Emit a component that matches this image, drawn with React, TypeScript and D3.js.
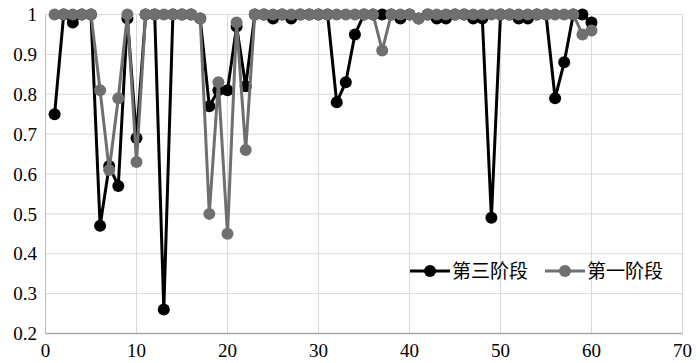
import React, { useEffect, useRef } from 'react';
import * as d3 from 'd3';

const xValues: number[] = Array.from({ length: 60 }, (_, i) => i + 1);

// 第三阶段 (black)
const stage3: number[] = [
  0.75, 1, 0.98, 1, 1, 0.47, 0.62, 0.57, 0.99, 0.69,
  1, 1, 0.26, 1, 1, 1, 0.99, 0.77, 0.81, 0.81,
  0.97, 0.82, 1, 1, 0.99, 1, 0.99, 1, 1, 1,
  1, 0.78, 0.83, 0.95, 1, 1, 1, 1, 0.99, 1,
  0.99, 1, 0.99, 0.99, 1, 1, 0.99, 0.99, 0.49, 1,
  1, 0.99, 0.99, 1, 1, 0.79, 0.88, 1, 1, 0.98,
];

// 第一阶段 (gray)
const stage1: number[] = [
  1, 1, 1, 1, 1, 0.81, 0.61, 0.79, 1, 0.63,
  1, 1, 1, 1, 1, 1, 0.99, 0.5, 0.83, 0.45,
  0.98, 0.66, 1, 1, 1, 1, 1, 1, 1, 1,
  1, 1, 1, 1, 1, 1, 0.91, 1, 1, 1,
  0.99, 1, 1, 1, 1, 1, 1, 1, 1, 1,
  1, 1, 1, 1, 1, 1, 1, 1, 0.95, 0.96,
];

const xTicks: number[] = [0, 10, 20, 30, 40, 50, 60, 70];
const yTicks: number[] = [0.2, 0.3, 0.4, 0.5, 0.6, 0.7, 0.8, 0.9, 1];
const yTickLabels: string[] = ['0.2', '0.3', '0.4', '0.5', '0.6', '0.7', '0.8', '0.9', '1'];

const seriesNames = ['第三阶段', '第一阶段'];

const App: React.FC = () => {
  const svgRef = useRef<SVGSVGElement | null>(null);

  useEffect(() => {
    const svg = d3.select(svgRef.current);
    svg.selectAll('*').remove();

    const W = 700;
    const H = 363;
    const left = 45.5;
    const right = 682.5;
    const top = 14.5;
    const bottom = 333.5;
    const font = "'Liberation Serif', 'DejaVu Serif', serif";

    const x = d3.scaleLinear().domain([0, 70]).range([left, right]);
    const y = d3.scaleLinear().domain([0.2, 1]).range([bottom, top]);

    svg.attr('width', W).attr('height', H).attr('viewBox', `0 0 ${W} ${H}`);
    svg.append('rect').attr('width', W).attr('height', H).attr('fill', '#fff');

    // grid
    const grid = svg.append('g');
    grid
      .selectAll('line.h')
      .data(yTicks.slice(1))
      .join('line')
      .attr('x1', left)
      .attr('x2', right)
      .attr('y1', d => y(d))
      .attr('y2', d => y(d))
      .attr('stroke', '#d9d9d9')
      .attr('stroke-width', 1);
    grid
      .selectAll('line.v')
      .data(xTicks.slice(1))
      .join('line')
      .attr('x1', d => x(d))
      .attr('x2', d => x(d))
      .attr('y1', top)
      .attr('y2', bottom)
      .attr('stroke', '#d9d9d9')
      .attr('stroke-width', 1);

    // axes lines
    svg.append('line')
      .attr('x1', left).attr('x2', left).attr('y1', top).attr('y2', bottom)
      .attr('stroke', '#bfbfbf').attr('stroke-width', 1);
    svg.append('line')
      .attr('x1', left).attr('x2', right).attr('y1', bottom).attr('y2', bottom)
      .attr('stroke', '#a6a6a6').attr('stroke-width', 1.5);

    // tick labels
    svg.append('g')
      .selectAll('text')
      .data(yTicks)
      .join('text')
      .attr('x', 37)
      .attr('y', d => y(d))
      .attr('dy', '0.35em')
      .attr('text-anchor', 'end')
      .style('font-family', font)
      .style('font-size', '19px')
      .attr('fill', '#000')
      .text((_, i) => yTickLabels[i]);

    svg.append('g')
      .selectAll('text')
      .data(xTicks)
      .join('text')
      .attr('x', d => x(d))
      .attr('y', 357)
      .attr('text-anchor', 'middle')
      .style('font-family', font)
      .style('font-size', '19px')
      .attr('fill', '#000')
      .text(d => String(d));

    const series = [
      { name: seriesNames[0], values: stage3, color: '#000000' },
      { name: seriesNames[1], values: stage1, color: '#6f6f6f' },
    ];

    const line = d3
      .line<number>()
      .x((_, i) => x(xValues[i]))
      .y(d => y(d));

    series.forEach(s => {
      const g = svg.append('g');
      g.append('path')
        .datum(s.values)
        .attr('fill', 'none')
        .attr('stroke', s.color)
        .attr('stroke-width', 3)
        .attr('stroke-linejoin', 'round')
        .attr('d', line);
      g.selectAll('circle')
        .data(s.values)
        .join('circle')
        .attr('cx', (_, i) => x(xValues[i]))
        .attr('cy', d => y(d))
        .attr('r', 6)
        .attr('fill', s.color);
    });

    // legend
    const legend = svg.append('g').attr('transform', 'translate(0,271)');
    const legendX = [410, 545];
    series.forEach((s, i) => {
      const lx = legendX[i];
      legend.append('line')
        .attr('x1', lx).attr('x2', lx + 40).attr('y1', 0).attr('y2', 0)
        .attr('stroke', s.color).attr('stroke-width', 3);
      legend.append('circle')
        .attr('cx', lx + 20).attr('cy', 0).attr('r', 6).attr('fill', s.color);
      legend.append('text')
        .attr('x', lx + 42)
        .attr('y', 0)
        .attr('dy', '0.36em')
        .style('font-family', "'Noto Sans CJK SC', sans-serif")
        .style('font-size', '19px')
        .attr('fill', '#000')
        .text(s.name);
    });
  }, []);

  return (
    <div style={{ position: 'absolute', left: 0, top: 0 }}>
      <svg ref={svgRef} style={{ display: 'block' }} />
    </div>
  );
};

export default App;
